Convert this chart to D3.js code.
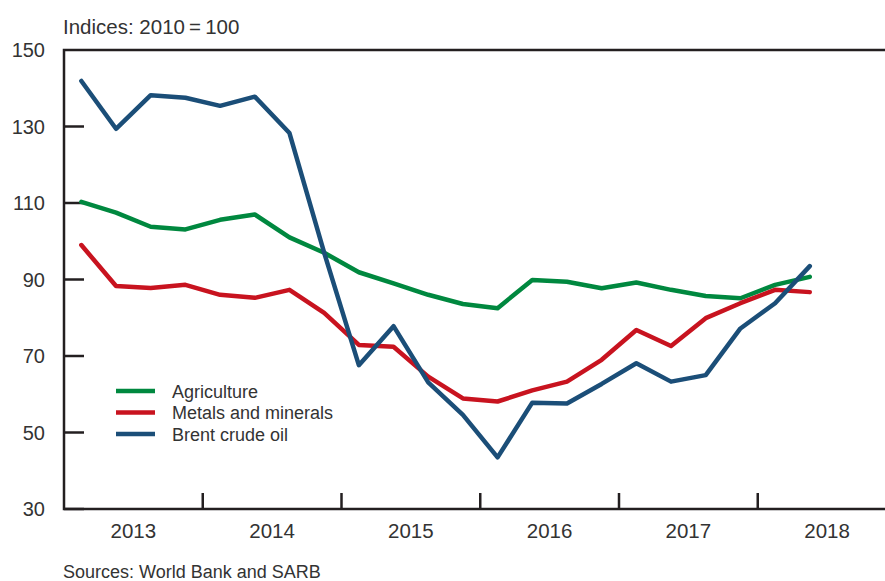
<!DOCTYPE html>
<html lang="en">
<head>
<meta charset="UTF-8">
<title>Commodity prices</title>
<script src="https://cdn.jsdelivr.net/npm/d3@7/dist/d3.min.js"></script>
<style>
body{margin:0;background:#fff;}
text{font-family:"Liberation Sans",Arial,sans-serif;fill:#333;}
</style>
</head>
<body>
<script>
// quarters 2013Q1 .. 2018Q2
var quarters = ["2013Q1","2013Q2","2013Q3","2013Q4","2014Q1","2014Q2","2014Q3","2014Q4",
	"2015Q1","2015Q2","2015Q3","2015Q4","2016Q1","2016Q2","2016Q3","2016Q4",
	"2017Q1","2017Q2","2017Q3","2017Q4","2018Q1","2018Q2"];
var agriculture = [110.3,107.5,103.8,103.1,105.6,107.0,101.0,97.0,91.9,89.0,86.0,83.6,
	82.5,89.9,89.4,87.7,89.2,87.3,85.7,85.1,88.6,90.7];
var metals = [99.0,88.3,87.8,88.6,86.0,85.2,87.3,81.3,72.9,72.4,64.6,58.9,
	58.1,61.0,63.3,69.0,76.8,72.6,79.9,83.8,87.3,86.7];
var brent = [141.9,129.4,138.2,137.5,135.4,137.8,128.3,97.0,67.6,77.8,63.1,54.6,
	43.5,57.8,57.6,62.7,68.1,63.3,65.0,77.2,83.8,93.5];
var years = [2013,2014,2015,2016,2017,2018];
var yTicks = [30,50,70,90,110,130,150];

var W = 885, H = 581;
var plotLeft = 64, plotTop = 50, plotBottom = 509;
var svg = d3.select("body").append("svg").attr("width",W).attr("height",H);

var x = d3.scaleLinear().domain([2013,2019]).range([plotLeft,plotLeft+6*138.75]);
var y = d3.scaleLinear().domain([30,150]).range([plotBottom,plotTop]);
function qx(q){ return +q.slice(0,4) + (+q.slice(5)-0.5)/4; }

var series = [
	{name:"Agriculture",values:agriculture,color:"#00883f"},
	{name:"Metals and minerals",values:metals,color:"#c8131f"},
	{name:"Brent crude oil",values:brent,color:"#1b4e78"}
];

// title
svg.append("text").attr("x",63).attr("y",34).style("font-size","20.5px").text("Indices: 2010\u2009=\u2009100");

// y tick labels
svg.selectAll(".ylab").data(yTicks).enter().append("text")
	.attr("x",45).attr("y",function(d){return y(d)+7;})
	.attr("text-anchor","end").style("font-size","20px").text(function(d){return d;});
// y ticks
svg.selectAll(".ytick").data(yTicks.slice(0,-1)).enter().append("line")
	.attr("x1",plotLeft).attr("x2",plotLeft+20).attr("y1",function(d){return y(d);}).attr("y2",function(d){return y(d);})
	.attr("stroke","#231f20").attr("stroke-width",2.5);

// x ticks and labels
svg.selectAll(".xtick").data(years.slice(1)).enter().append("line")
	.attr("x1",function(d){return x(d);}).attr("x2",function(d){return x(d);})
	.attr("y1",plotBottom).attr("y2",plotBottom-16)
	.attr("stroke","#231f20").attr("stroke-width",2.5);
svg.selectAll(".xlab").data(years).enter().append("text")
	.attr("x",function(d){return x(d+0.5);}).attr("y",538)
	.attr("text-anchor","middle").style("font-size","20.5px").text(function(d){return d;});

// lines
var line = d3.line().x(function(d,i){return x(qx(quarters[i]));}).y(function(d){return y(d);});
svg.selectAll(".series").data(series).enter().append("path")
	.attr("d",function(d){return line(d.values);})
	.attr("fill","none").attr("stroke",function(d){return d.color;})
	.attr("stroke-width",4.5).attr("stroke-linejoin","round").attr("stroke-linecap","round");

// frame
svg.append("path").attr("d","M"+W+","+plotTop+"H"+plotLeft+"V"+plotBottom+"H"+W)
	.attr("fill","none").attr("stroke","#231f20").attr("stroke-width",2.5);

// legend
var lg = svg.selectAll(".leg").data(series).enter().append("g")
	.attr("transform",function(d,i){return "translate(116,"+(391+i*21.5)+")";});
lg.append("line").attr("x1",0).attr("x2",39).attr("stroke",function(d){return d.color;}).attr("stroke-width",4.5);
lg.append("text").attr("x",56).attr("y",6.5).style("font-size","18px").text(function(d){return d.name;});

// source
svg.append("text").attr("x",63).attr("y",578).style("font-size","18px").text("Sources: World Bank and SARB");
</script>
</body>
</html>
